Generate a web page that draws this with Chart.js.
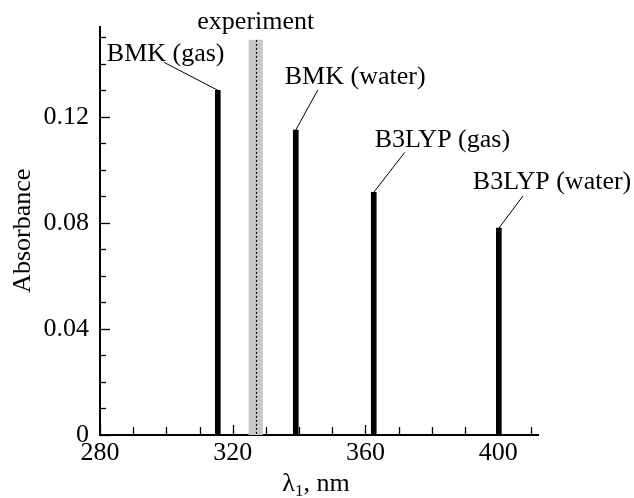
<!DOCTYPE html>
<html>
<head>
<meta charset="utf-8">
<script src="https://cdn.jsdelivr.net/npm/chart.js@4/dist/chart.umd.min.js"></script>
<style>
  html, body { margin: 0; padding: 0; background: #fff; }
  canvas { display: block; }
</style>
</head>
<body>
<canvas id="chart" width="634" height="498"></canvas>
<script>
// Data
const stickNames = ['BMK (gas)', 'BMK (water)', 'B3LYP (gas)', 'B3LYP (water)'];
const stickWavelength = [315.5, 339, 362.5, 400.2];
const stickAbsorbance = [0.13, 0.115, 0.0915, 0.078];

const expBand = [324.8, 329.1];   // grey experimental range, nm
const expLine = 327.1;            // dotted line, nm
const expTop = 0.149;
const expName = 'experiment';

const xTicks = [280, 320, 360, 400];
const xMinorStep = 10;
const yTicks = [0, 0.04, 0.08, 0.12];
const yMinorStep = 0.01;

// Layout of annotation labels (pixel offsets from stick tops)
const labelLayout = [
  { tx: -111, ty: -29, lx: -54, ly: -28 },
  { tx: -11,  ty: -46, lx: 22,  ly: -40 },
  { tx: 1,    ty: -45, lx: 31,  ly: -40 },
  { tx: -26,  ty: -39, lx: 24,  ly: -32 }
];

const FONT = '"Liberation Serif", "Times New Roman", serif';
const FS = 26;

const decor = {
  id: 'decor',
  beforeDatasetsDraw(chart) {
    const { ctx, scales: { x, y } } = chart;
    const x0 = x.getPixelForValue(expBand[0]);
    const x1 = x.getPixelForValue(expBand[1]);
    const yt = y.getPixelForValue(expTop);
    const yb = y.getPixelForValue(0);
    ctx.save();
    ctx.fillStyle = '#c8c8c8';
    ctx.fillRect(x0, yt, x1 - x0, yb - yt);
    ctx.strokeStyle = '#000';
    ctx.lineWidth = 1.2;
    ctx.setLineDash([2, 2]);
    const xl = Math.round(x.getPixelForValue(expLine)) + 0.5;
    ctx.beginPath();
    ctx.moveTo(xl, yt);
    ctx.lineTo(xl, yb);
    ctx.stroke();
    ctx.restore();
  },
  afterDraw(chart) {
    const { ctx, chartArea: ca, scales: { x, y } } = chart;
    ctx.save();
    ctx.strokeStyle = '#000';
    ctx.lineWidth = 1.3;

    // inward ticks on the x axis
    for (let v = x.min; v <= x.max + 1e-9; v += xMinorStep) {
      const px = Math.round(x.getPixelForValue(v)) + 0.5;
      const len = xTicks.includes(v) ? 10 : 8;
      ctx.beginPath();
      ctx.moveTo(px, ca.bottom);
      ctx.lineTo(px, ca.bottom - len);
      ctx.stroke();
    }
    // inward ticks on the y axis
    for (let i = 0; i * yMinorStep <= y.max + 1e-9; i++) {
      const v = i * yMinorStep;
      const py = Math.round(y.getPixelForValue(v)) + 0.5;
      const major = i % 4 === 0;
      ctx.beginPath();
      ctx.moveTo(ca.left, py);
      ctx.lineTo(ca.left + (major ? 10 : 6), py);
      ctx.stroke();
    }

    ctx.fillStyle = '#000';
    ctx.font = FS + 'px ' + FONT;
    ctx.textBaseline = 'alphabetic';

    // stick labels with leader lines
    ctx.lineWidth = 1;
    stickNames.forEach((name, i) => {
      const bx = x.getPixelForValue(stickWavelength[i]);
      const by = y.getPixelForValue(stickAbsorbance[i]);
      const L = labelLayout[i];
      ctx.textAlign = 'left';
      ctx.fillText(name, bx + L.tx, by + L.ty);
      ctx.beginPath();
      ctx.moveTo(bx + L.lx, by + L.ly);
      ctx.lineTo(bx, by);
      ctx.stroke();
    });

    // experiment label
    ctx.textAlign = 'center';
    ctx.fillText(expName, x.getPixelForValue((expBand[0] + expBand[1]) / 2), y.getPixelForValue(expTop) - 11);

    // x axis title with subscript
    const parts = [['\u03bb', FS, 0], ['1', 17, 5], [', nm', FS, 0]];
    let w = 0;
    parts.forEach(p => { ctx.font = p[1] + 'px ' + FONT; w += ctx.measureText(p[0]).width; });
    let cx = (ca.left + ca.right) / 2 - 3 - w / 2;
    const base = 491;
    ctx.textAlign = 'left';
    parts.forEach(p => {
      ctx.font = p[1] + 'px ' + FONT;
      ctx.fillText(p[0], cx, base + p[2]);
      cx += ctx.measureText(p[0]).width;
    });
    ctx.restore();
  }
};

new Chart(document.getElementById('chart'), {
  type: 'bar',
  data: {
    datasets: [{
      data: stickWavelength.map((v, i) => ({ x: v, y: stickAbsorbance[i] })),
      backgroundColor: '#000',
      borderWidth: 0,
      barThickness: 5
    }]
  },
  options: {
    responsive: false,
    animation: false,
    layout: { padding: { top: 25, right: 96, left: 0, bottom: 0 } },
    plugins: { legend: { display: false }, tooltip: { enabled: false } },
    scales: {
      x: {
        type: 'linear',
        offset: false,
        min: 280,
        max: 412,
        grid: { display: false, drawTicks: false, offset: false },
        border: { display: true, color: '#000', width: 2 },
        ticks: {
          color: '#000',
          font: { family: FONT, size: FS },
          padding: 3,
          autoSkip: false,
          maxRotation: 0
        },
        afterBuildTicks: s => { s.ticks = xTicks.map(v => ({ value: v })); },
        afterFit: s => { s.height = 63; }
      },
      y: {
        min: 0,
        max: 0.154,
        grid: { display: false, drawTicks: false },
        border: { display: true, color: '#000', width: 2 },
        ticks: {
          color: '#000',
          font: { family: FONT, size: FS },
          padding: 11,
          autoSkip: false,
          callback: v => (v === 0 ? '0' : v.toFixed(2))
        },
        title: {
          display: true,
          text: 'Absorbance',
          color: '#000',
          font: { family: FONT, size: FS },
          padding: { top: 8, bottom: 0 }
        },
        afterBuildTicks: s => { s.ticks = yTicks.map(v => ({ value: v })); },
        afterFit: s => { s.width = 100; }
      }
    }
  },
  plugins: [decor]
});
</script>
</body>
</html>
